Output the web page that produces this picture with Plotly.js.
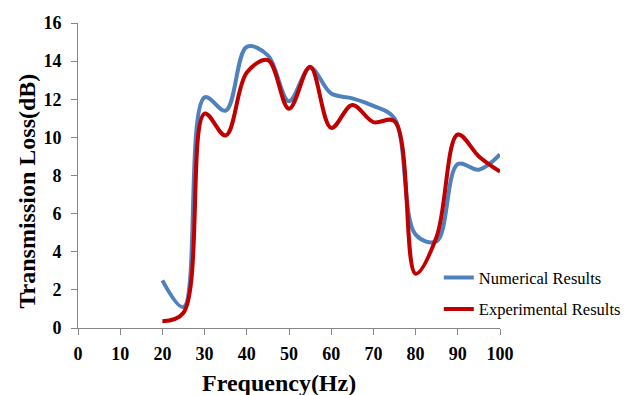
<!DOCTYPE html>
<html>
<head>
<meta charset="utf-8">
<script src="https://cdn.plot.ly/plotly-3.0.1.min.js"></script>
<style>html,body{margin:0;padding:0;background:#fff;}#chart{width:642px;height:395px;}</style>
</head>
<body>
<div id="chart"></div>
<script>
const frequency = [20, 25, 30, 35, 40, 45, 50, 55, 60, 65, 70, 75, 80, 85, 90, 95, 100];
const numerical = [2.5, 1.1, 12.1, 11.4, 14.75, 14.3, 11.9, 13.65, 12.3, 12.05, 11.65, 11.0, 4.9, 4.55, 8.6, 8.3, 9.1];
const experimental = [0.35, 0.8, 11.25, 10.1, 13.4, 14.05, 11.5, 13.7, 10.5, 11.7, 10.8, 10.85, 2.85, 4.8, 10.15, 9.0, 8.2];
const xTicks = [0, 10, 20, 30, 40, 50, 60, 70, 80, 90, 100];
const yTicks = [0, 2, 4, 6, 8, 10, 12, 14, 16];

const serif = 'Liberation Serif, Times New Roman, serif';
const tickFont = {family: serif, size: 18, color: '#000', weight: 'bold'};

const traces = [
  {x: frequency, y: numerical, name: 'Numerical Results', mode: 'lines',
   line: {color: '#4F81BD', width: 4, shape: 'spline', smoothing: 1}, legendgroup: 'a'},
  {x: frequency, y: experimental, name: 'Experimental Results', mode: 'lines',
   line: {color: '#C00000', width: 4, shape: 'spline', smoothing: 1}, legendgroup: 'b'}
];

const axisCommon = {
  showgrid: false, zeroline: false, showline: true, linecolor: '#868686', linewidth: 1,
  ticks: 'outside', ticklen: 6, tickcolor: '#868686', tickwidth: 1,
  tickfont: tickFont
};

const layout = {
  width: 642, height: 395,
  margin: {l: 78, r: 142, t: 23, b: 67},
  paper_bgcolor: '#fff', plot_bgcolor: '#fff',
  showlegend: true,
  legend: {x: 0.855, y: 0.222, xanchor: 'left', yanchor: 'top', bgcolor: 'rgba(0,0,0,0)',
           font: {family: serif, size: 16.5, color: '#000'}, tracegroupgap: 7, traceorder: 'grouped'},
  xaxis: Object.assign({}, axisCommon, {range: [0, 100], tickvals: xTicks, ticktext: xTicks.map(String), ticklabelstandoff: 3}),
  yaxis: Object.assign({}, axisCommon, {range: [0, 16], tickvals: yTicks, ticktext: yTicks.map(String), ticklabelstandoff: 6}),
  annotations: [
    {text: '<b>Frequency(Hz)</b>', xref: 'paper', yref: 'paper', x: 0.476, y: -0.18,
     xanchor: 'center', yanchor: 'middle', showarrow: false, font: {family: serif, size: 24, color: '#000'}},
    {text: '<b>Transmission Loss(dB)</b>', xref: 'paper', yref: 'paper', x: -0.123, y: 0.4475,
     xanchor: 'center', yanchor: 'middle', textangle: -90, showarrow: false, font: {family: serif, size: 24, color: '#000'}}
  ]
};

Plotly.newPlot('chart', traces, layout, {displayModeBar: false, staticPlot: true});
</script>
</body>
</html>
